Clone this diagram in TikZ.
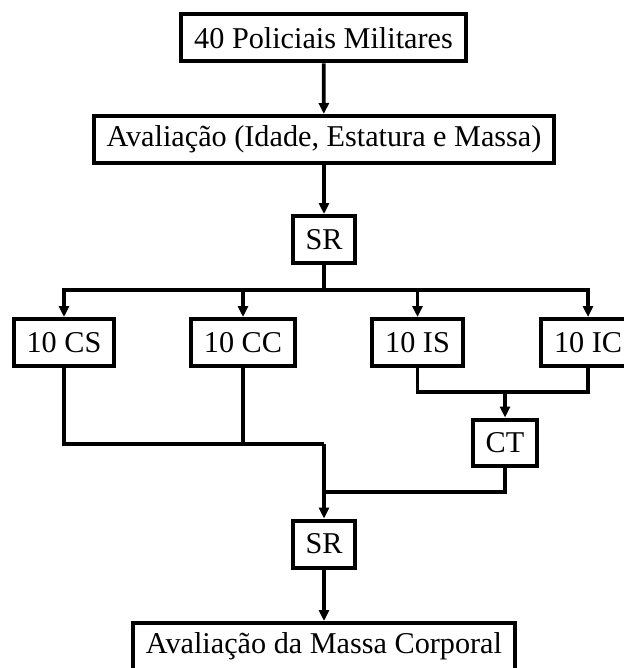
\documentclass[tikz,border=0pt]{standalone}
\usepackage{fontspec}
\setmainfont{Liberation Serif}
\usetikzlibrary{arrows.meta,positioning}

\tikzset{
  caixa/.style={draw,line width=0.08cm,inner xsep=0.26cm,inner ysep=0pt,
                minimum height=0.94cm,font=\fontsize{17.2}{20}\selectfont},
  liga/.style={line width=0.075cm}
}

\begin{document}
\begin{tikzpicture}[x=0.02cm,y=-0.02cm,>={Triangle[length=0.22cm,width=0.2cm]}]
  \useasboundingbox (0,0) rectangle (623,668);
  %% Boxes
  \node[caixa] (mil)   at (323.5,38)  {40 Policiais Militares};
  \node[caixa] (aval)  at (324,139.5) {Avaliação (Idade, Estatura e Massa)};
  \node[caixa] (sr1)   at (324,239.5) {SR};
  \node[caixa] (cs)    at (64,342.5)  {10 CS};
  \node[caixa] (cc)    at (243,342.5) {10 CC};
  \node[caixa] (is)    at (417.5,342.5) {10 IS};
  \node[caixa] (ic)    at (588,342.5) {10 IC};
  \node[caixa] (ct)    at (505,443)   {CT};
  \node[caixa] (sr2)   at (324,544)   {SR};
  \node[caixa] (massa) at (324,646.5) {Avaliação da Massa Corporal};
  %% Junctions
  \coordinate (ramo)  at (324,290);
  \coordinate (juncI) at (505,392);
  \coordinate (juncC) at (324,444);
  \coordinate (juncT) at (324,492);
  %% Connectors
  \draw[liga,->] (mil) -- (aval);
  \draw[liga,->] (aval) -- (sr1);
  \draw[liga] (sr1) -- (ramo);
  \foreach \g in {cs,cc,is,ic}
    \draw[liga,->] (ramo) -| (\g);
  \draw[liga] (is) |- (juncI);
  \draw[liga] (ic) |- (juncI);
  \draw[liga,->] (juncI) -- (ct);
  \draw[liga] (cs) |- (juncC);
  \draw[liga] (cc) |- (juncC);
  \draw[liga] (ct) |- (juncT);
  \draw[liga,->] (juncC) -- (sr2);
  \draw[liga,->] (sr2) -- (massa);
\end{tikzpicture}
\end{document}
